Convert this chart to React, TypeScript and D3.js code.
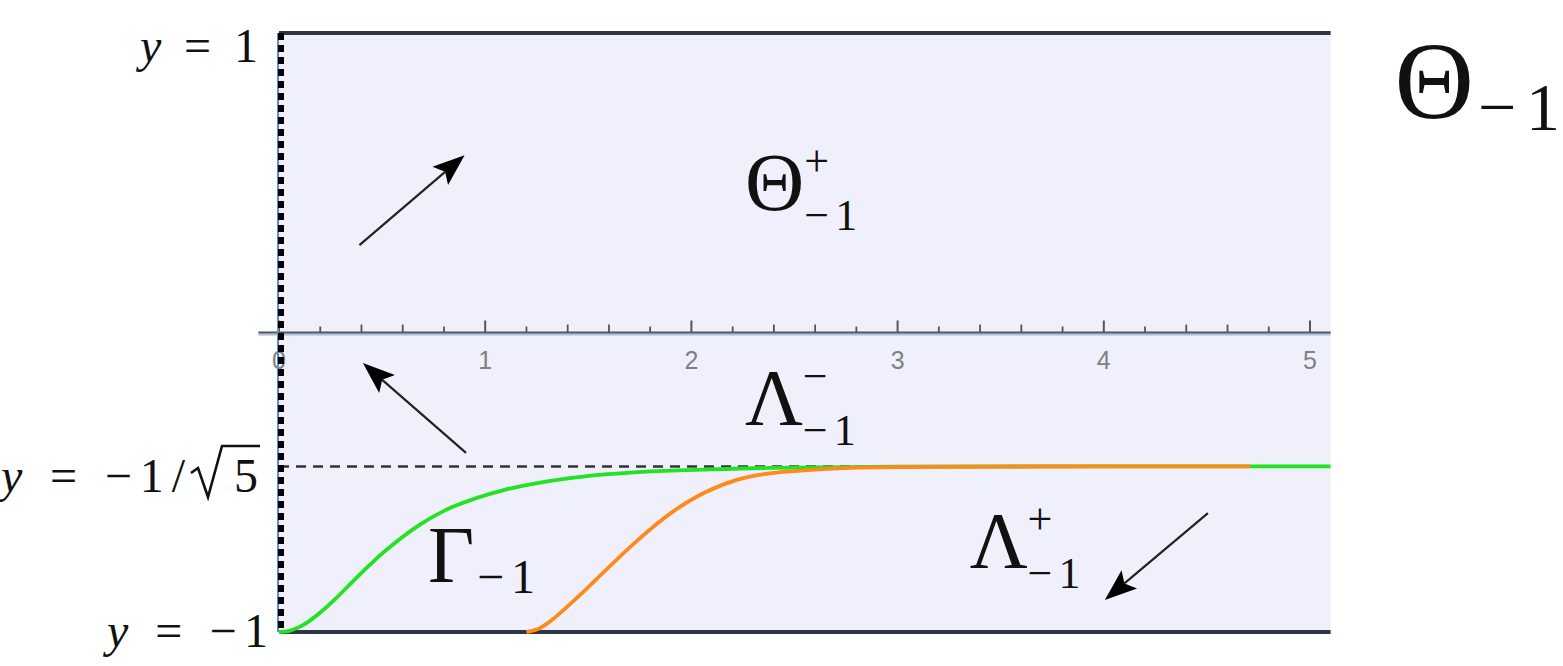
import React from "react";
import * as d3 from "d3";

const W = 1563;
const H = 666;

// Data
const xDomain = [0, 5.1];
const yDomain = [-1, 1];
const majorTicks = [0, 1, 2, 3, 4, 5];
const minorTicks = [0.2, 0.4, 0.6, 0.8, 1.2, 1.4, 1.6, 1.8, 2.2, 2.4, 2.6, 2.8, 3.2, 3.4, 3.6, 3.8, 4.2, 4.4, 4.6, 4.8];
const asymptote = -1 / Math.sqrt(5);

const gammaX = [0, 0.05, 0.1, 0.15, 0.2, 0.28, 0.36, 0.44, 0.52, 0.68, 0.84, 1.09, 1.41, 1.74, 2.06, 2.38, 3.0, 4.0, 5.1];
const gammaY = [-1, -0.996, -0.983, -0.962, -0.935, -0.885, -0.83, -0.776, -0.726, -0.643, -0.583, -0.526, -0.486, -0.466, -0.458, -0.452, -0.448, -0.4472, -0.4472];

const orangeX = [1.2, 1.25, 1.3, 1.35, 1.41, 1.49, 1.57, 1.74, 1.9, 2.06, 2.22, 2.38, 2.53, 2.77, 3.01, 3.5, 4.71];
const orangeY = [-1, -0.992, -0.972, -0.945, -0.908, -0.857, -0.803, -0.693, -0.603, -0.536, -0.492, -0.47, -0.461, -0.452, -0.449, -0.4475, -0.4472];

// arrows in data units (tail -> tip)
const arrowTails = [[0.39, 0.292], [0.907, -0.402], [4.505, -0.603]];
const arrowTips = [[0.9, 0.592], [0.407, -0.102], [4.005, -0.893]];

export default function App() {
  const left = 279;
  const right = 279 + 5.1 * 206.2;
  const top = 33;
  const bottom = 632;
  const x = d3.scaleLinear().domain(xDomain).range([left, right]);
  const y = d3.scaleLinear().domain(yDomain).range([bottom, top]);

  const line = d3
    .line<[number, number]>()
    .x((d) => x(d[0]))
    .y((d) => y(d[1]))
    .curve(d3.curveCatmullRom.alpha(0.5));

  const gPts = gammaX.map((v, i) => [v, gammaY[i]] as [number, number]);
  const oPts = orangeX.map((v, i) => [v, orangeY[i]] as [number, number]);

  const serif = "'Liberation Serif', 'DejaVu Serif', serif";

  const arrowHead = (tail: number[], tip: number[], key: number) => {
    const x1 = x(tail[0]), y1 = y(tail[1]), x2 = x(tip[0]), y2 = y(tip[1]);
    const ang = Math.atan2(y2 - y1, x2 - x1);
    const L = 32, Wd = 12;
    const bx = x2 - L * Math.cos(ang), by = y2 - L * Math.sin(ang);
    const nx = -Math.sin(ang), ny = Math.cos(ang);
    const mx = x2 - L * 0.8 * Math.cos(ang), my = y2 - L * 0.8 * Math.sin(ang);
    const pts = `${x2},${y2} ${bx + nx * Wd},${by + ny * Wd} ${mx},${my} ${bx - nx * Wd},${by - ny * Wd}`;
    return (
      <g key={key}>
        <line x1={x1} y1={y1} x2={mx} y2={my} stroke="#222" strokeWidth={2.2} />
        <polygon points={pts} fill="#000" />
      </g>
    );
  };

  const thA = 0.722; // advance of Θ/Λ in em
  const ss = 44; // script size
  const supDy = -34;
  const subDy = 20;
  const subLen = 53;
  return (
    <svg width={W} height={H} style={{ position: "absolute", left: 0, top: 0, background: "#fff" }}>
      <rect x={left} y={top} width={right - left} height={bottom - top} fill="#f0f0fc" />

      {/* asymptote dashed */}
      <line x1={x(0)} x2={x(5.1)} y1={y(asymptote)} y2={y(asymptote)} stroke="#333" strokeWidth={2.5} strokeDasharray="10 7" />

      {/* axis */}
      <line x1={x(-0.1)} x2={right} y1={y(0) + 2} y2={y(0) + 2} stroke="#a9bde0" strokeWidth={2} />
      <line x1={x(-0.1)} x2={right} y1={y(0)} y2={y(0)} stroke="#555" strokeWidth={2.2} />
      {majorTicks.map((t) => (
        <line key={"M" + t} x1={x(t)} x2={x(t)} y1={y(0)} y2={y(0) - 12} stroke="#555" strokeWidth={2} />
      ))}
      {minorTicks.map((t) => {
        const f = Math.round((t % 1) * 10);
        const len = f === 2 || f === 8 ? 6 : 8;
        return <line key={"m" + t} x1={x(t)} x2={x(t)} y1={y(0)} y2={y(0) - len} stroke="#555" strokeWidth={1.8} />;
      })}
      {majorTicks.map((t) => (
        <text key={"l" + t} x={x(t)} y={y(0) + 36} textAnchor="middle" fontFamily="'Liberation Sans', Arial, sans-serif" fontSize={25} fill="#808080">
          {t}
        </text>
      ))}

      {/* borders */}
      <line x1={left} x2={right} y1={top} y2={top} stroke="#2e3646" strokeWidth={4} />
      <line x1={left} x2={right} y1={bottom} y2={bottom} stroke="#2e3646" strokeWidth={4} />
      <line x1={left - 1} x2={left - 1} y1={top} y2={bottom} stroke="#5b8fd0" strokeWidth={2} />
      <line x1={left + 2} x2={left + 2} y1={top} y2={bottom} stroke="#000" strokeWidth={6} strokeDasharray="7 5" />

      {/* curves */}
      <path d={line(gPts) || ""} fill="none" stroke="#22e222" strokeWidth={3.8} />
      <path d={line(oPts) || ""} fill="none" stroke="#ff8a1c" strokeWidth={3.8} />

      {/* arrows */}
      {arrowTails.map((t, i) => arrowHead(t, arrowTips[i], i))}

      {/* y labels */}
      <g fontFamily={serif} fill="#111" fontSize={48}>
        <text x={140} y={62} textLength={118} lengthAdjust="spacing">
          <tspan fontStyle="italic">y</tspan> = 1
        </text>
        <text x={1} y={492} textLength={184} lengthAdjust="spacing">
          <tspan fontStyle="italic">y</tspan> = −1/
        </text>
        <path d="M191,473 L198,468 L208,497 L222,446 L260,446" fill="none" stroke="#111" strokeWidth={2.6} strokeLinejoin="miter" />
        <text x={234} y={492}>5</text>
        <text x={107} y={647} textLength={161} lengthAdjust="spacing">
          <tspan fontStyle="italic">y</tspan> = −1
        </text>
      </g>

      {/* region labels */}
      <g fontFamily={serif} fill="#111">
        <text x={x(5.41)} y={y(0.717)} fontSize={110}>Θ</text>
        <text x={x(5.41) + 110 * thA + 4} y={y(0.675)} fontSize={68} textLength={82} lengthAdjust="spacing">−1</text>

        <text x={x(2.26)} y={y(0.409)} fontSize={82}>Θ</text>
        <text x={x(2.26) + 82 * thA} y={y(0.409) + supDy} fontSize={ss}>+</text>
        <text x={x(2.26) + 82 * thA} y={y(0.409) + subDy} fontSize={ss} textLength={subLen} lengthAdjust="spacing">−1</text>

        <text x={x(2.26)} y={y(-0.309)} fontSize={80}>Λ</text>
        <text x={x(2.26) + 80 * thA} y={y(-0.309) + supDy} fontSize={ss}>−</text>
        <text x={x(2.26) + 80 * thA} y={y(-0.309) + subDy} fontSize={ss} textLength={subLen} lengthAdjust="spacing">−1</text>

        <text x={x(0.723)} y={y(-0.833)} fontSize={80}>Γ</text>
        <text x={x(0.723) + 80 * 0.611} y={y(-0.833) + 11} fontSize={48} textLength={58} lengthAdjust="spacing">−1</text>

        <text x={x(3.35)} y={y(-0.787)} fontSize={80}>Λ</text>
        <text x={x(3.35) + 80 * thA} y={y(-0.787) + supDy} fontSize={ss}>+</text>
        <text x={x(3.35) + 80 * thA} y={y(-0.787) + subDy} fontSize={ss} textLength={subLen} lengthAdjust="spacing">−1</text>
      </g>
    </svg>
  );
}
